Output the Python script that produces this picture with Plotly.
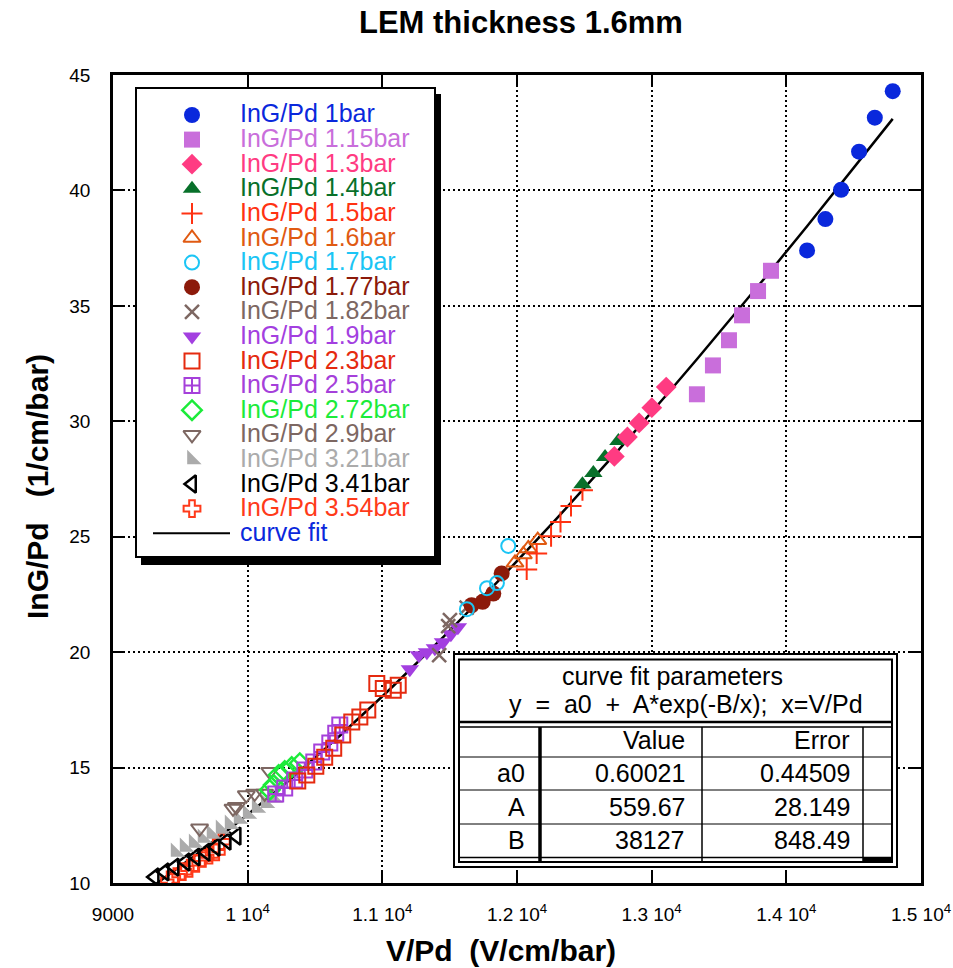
import plotly.graph_objects as go
import numpy as np

# ---------------- data ----------------
x_1bar = [14154, 14290, 14407, 14540, 14657, 14790]
y_1bar = [37.40, 38.76, 40.03, 41.68, 43.15, 44.30]
x_115bar = [13336, 13455, 13574, 13671, 13790, 13886]
y_115bar = [31.17, 32.42, 33.51, 34.59, 35.64, 36.52]
x_13bar = [12723, 12820, 12907, 13001, 13108]
y_13bar = [28.48, 29.32, 29.93, 30.59, 31.48]
x_14bar = [12486, 12567, 12654, 12753]
y_14bar = [27.27, 27.76, 28.45, 29.15]
x_15bar = [12072, 12146, 12253, 12323, 12401, 12486]
y_15bar = [23.58, 24.27, 25.02, 25.64, 26.33, 27.01]
x_16bar = [11985, 12047, 12084, 12154]
y_16bar = [23.87, 24.23, 24.49, 24.85]
x_17bar = [11628, 11777, 11851, 11935]
y_17bar = [21.86, 22.77, 22.99, 24.60]
x_177bar = [11663, 11745, 11824, 11886]
y_177bar = [22.03, 22.18, 22.54, 23.41]
x_182bar = [11422, 11489, 11502, 11626]
y_182bar = [19.87, 21.13, 21.39, 21.93]
x_19bar = [11204, 11271, 11331, 11390, 11450, 11509, 11561]
y_19bar = [19.26, 19.87, 20.00, 20.17, 20.43, 20.78, 21.08]
x_23bar = [10372, 10439, 10506, 10572, 10639, 10706, 10773, 10833, 10892, 10959, 11007, 11081, 11118]
y_23bar = [14.42, 14.68, 15.06, 15.45, 15.84, 16.41, 16.97, 17.19, 17.49, 18.64, 18.43, 18.35, 18.57]
x_25bar = [10208, 10275, 10349, 10424, 10491, 10550, 10610, 10654, 10684]
y_25bar = [13.85, 14.11, 14.46, 14.89, 15.24, 15.67, 16.06, 16.49, 16.84]
x_272bar = [10164, 10193, 10230, 10275, 10327, 10387]
y_272bar = [14.03, 14.24, 14.68, 14.85, 15.02, 15.19]
x_29bar = [9643, 9891, 9916, 9990, 10052, 10126, 10164]
y_29bar = [12.37, 13.23, 13.30, 13.81, 13.88, 13.88, 14.82]
x_321bar = [9465, 9532, 9599, 9665, 9732, 9799, 9866, 9933, 10000, 10067, 10134, 10193]
y_321bar = [11.34, 11.56, 11.73, 11.95, 12.12, 12.34, 12.55, 12.77, 12.99, 13.25, 13.46, 13.68]
x_341bar = [9309, 9383, 9457, 9539, 9613, 9688, 9762, 9844, 9918]
y_341bar = [10.26, 10.48, 10.69, 10.91, 11.13, 11.34, 11.56, 11.82, 12.03]
x_354bar = [9420, 9470, 9519, 9569, 9619, 9668, 9717, 9767, 9804]
y_354bar = [10.13, 10.27, 10.49, 10.64, 10.85, 11.07, 11.21, 11.35, 11.79]

series_names = ["InG/Pd 1bar", "InG/Pd 1.15bar", "InG/Pd 1.3bar", "InG/Pd 1.4bar",
                "InG/Pd 1.5bar", "InG/Pd 1.6bar", "InG/Pd 1.7bar", "InG/Pd 1.77bar",
                "InG/Pd 1.82bar", "InG/Pd 1.9bar", "InG/Pd 2.3bar", "InG/Pd 2.5bar",
                "InG/Pd 2.72bar", "InG/Pd 2.9bar", "InG/Pd 3.21bar", "InG/Pd 3.41bar",
                "InG/Pd 3.54bar"]
series_x = [x_1bar, x_115bar, x_13bar, x_14bar, x_15bar, x_16bar, x_17bar, x_177bar,
            x_182bar, x_19bar, x_23bar, x_25bar, x_272bar, x_29bar, x_321bar, x_341bar, x_354bar]
series_y = [y_1bar, y_115bar, y_13bar, y_14bar, y_15bar, y_16bar, y_17bar, y_177bar,
            y_182bar, y_19bar, y_23bar, y_25bar, y_272bar, y_29bar, y_321bar, y_341bar, y_354bar]

# fit parameters (from the table)
param_names = ["a0", "A", "B"]
param_values = ["0.60021", "559.67", "38127"]
param_errors = ["0.44509", "28.149", "848.49"]
a0_fit, A_fit, B_fit = 0.60021, 559.67, 38127.0

x_ticks = [9000, 10000, 11000, 12000, 13000, 14000, 15000]
x_ticktext = ["9000", "1 10<sup>4</sup>", "1.1 10<sup>4</sup>", "1.2 10<sup>4</sup>",
              "1.3 10<sup>4</sup>", "1.4 10<sup>4</sup>", "1.5 10<sup>4</sup>"]
y_ticks = [10, 15, 20, 25, 30, 35, 40, 45]

# ---------------- styles ----------------
styles = [
    dict(symbol="circle", color="#0A28DC", size=16),
    dict(symbol="square", color="#C96EDB", size=16),
    dict(symbol="diamond", color="#FF3B82", size=16),
    dict(symbol="triangle-up", color="#08702A", size=16),
    dict(symbol="cross-thin", color="#FF3212", size=15, lw=2),
    dict(symbol="triangle-up-open", color="#E05A12", size=15, lw=2),
    dict(symbol="circle-open", color="#1BC5F5", size=14, lw=2),
    dict(symbol="circle", color="#8C1A0A", size=16),
    dict(symbol="x-thin", color="#7D6762", size=14, lw=2.5),
    dict(symbol="triangle-down", color="#A33FE0", size=16),
    dict(symbol="square-open", color="#E52A0F", size=15, lw=2),
    dict(symbol="square-cross-open", color="#A540DA", size=15, lw=2),
    dict(symbol="diamond-open", color="#1CEB3A", size=15, lw=2.5),
    dict(symbol="triangle-down-open", color="#7D6762", size=15, lw=2),
    dict(symbol="triangle-sw", color="#ABABAB", size=16),
    dict(symbol="triangle-left-open", color="#000000", size=15, lw=2.5),
    dict(symbol="cross-open", color="#FF3A1A", size=14, lw=2),
]
text_colors = ["#0A28DC", "#C96EDB", "#FF3B82", "#08702A", "#FF3212", "#E05A12", "#1BC5F5",
               "#8C1A0A", "#7D6762", "#A33FE0", "#E52A0F", "#A540DA", "#1CEB3A", "#7D6762",
               "#ABABAB", "#000000", "#FF3A1A"]

FONT = "Liberation Sans, Arial, Helvetica, sans-serif"

W, H = 953, 968
L, R, T, B = 113, 32, 75, 85
PW, PH = W - L - R, H - T - B
X0, X1, Y0, Y1 = 9000, 15000, 10, 45


def px2x(px):
    return X0 + (px - L) / PW * (X1 - X0)


def py2y(py):
    return Y0 + (T + PH - py) / PH * (Y1 - Y0)


def pxp(px):
    return (px - L) / PW


def pyp(py):
    return (T + PH - py) / PH


def marker_of(st):
    lw = st.get("lw", 0)
    return dict(symbol=st["symbol"], size=st["size"], color=st["color"],
                line=dict(color=st["color"], width=lw))


fig = go.Figure()

# curve fit evaluated at the measured x values
all_x = np.sort(np.unique(np.concatenate([np.array(v, float) for v in series_x])))
fit_y = a0_fit + A_fit * np.exp(-B_fit / all_x)
fig.add_trace(go.Scatter(x=all_x, y=fit_y, mode="lines", name="curve fit",
                         line=dict(color="black", width=2.5), showlegend=False))

# data (draw in reverse so low-pressure series end on top like reference)
for i in reversed(range(len(series_names))):
    fig.add_trace(go.Scatter(x=series_x[i], y=series_y[i], mode="markers",
                             name=series_names[i], marker=marker_of(styles[i]),
                             showlegend=False))

shapes = []
annotations = []

# ---------------- manual legend ----------------
LB = dict(x0=136, y0=88, x1=435, y1=557)
shapes.append(dict(type="rect", xref="x", yref="y", layer="between",
                   x0=px2x(LB["x0"] + 5), x1=px2x(LB["x1"] + 6),
                   y0=py2y(LB["y0"] + 6), y1=py2y(LB["y1"] + 8),
                   fillcolor="black", line=dict(width=0)))
shapes.append(dict(type="rect", xref="x", yref="y", layer="between",
                   x0=px2x(LB["x0"]), x1=px2x(LB["x1"]),
                   y0=py2y(LB["y0"]), y1=py2y(LB["y1"]),
                   fillcolor="white", line=dict(color="black", width=2)))
row0, drow = 115.0, 24.6
for i, nm in enumerate(series_names):
    ry = row0 + drow * i
    fig.add_trace(go.Scatter(x=[px2x(192)], y=[py2y(ry)], mode="markers",
                             marker=marker_of(styles[i]), showlegend=False,
                             hoverinfo="skip"))
    annotations.append(dict(xref="paper", yref="paper", x=pxp(238), y=pyp(ry - 1.5),
                            xanchor="left", yanchor="middle", showarrow=False,
                            text=nm, font=dict(family=FONT, size=25, color=text_colors[i])))
ry = row0 + drow * 17
shapes.append(dict(type="line", xref="x", yref="y", layer="above",
                   x0=px2x(153), x1=px2x(230), y0=py2y(ry), y1=py2y(ry),
                   line=dict(color="black", width=2)))
annotations.append(dict(xref="paper", yref="paper", x=pxp(238), y=pyp(ry - 1.5),
                        xanchor="left", yanchor="middle", showarrow=False,
                        text="curve fit", font=dict(family=FONT, size=25, color="#0A28DC")))

# ---------------- table ----------------
def hline(py, xa, xb, w, color="black"):
    shapes.append(dict(type="line", xref="x", yref="y", layer="between",
                       x0=px2x(xa), x1=px2x(xb), y0=py2y(py), y1=py2y(py),
                       line=dict(color=color, width=w)))


def vline(px, ya, yb, w, color="black"):
    shapes.append(dict(type="line", xref="x", yref="y", layer="between",
                       x0=px2x(px), x1=px2x(px), y0=py2y(ya), y1=py2y(yb),
                       line=dict(color=color, width=w)))


shapes.append(dict(type="rect", xref="x", yref="y", layer="between",
                   x0=px2x(454), x1=px2x(897), y0=py2y(654), y1=py2y(867),
                   fillcolor="white", line=dict(color="black", width=2)))
shapes.append(dict(type="rect", xref="x", yref="y", layer="between",
                   x0=px2x(459), x1=px2x(892), y0=py2y(659.5), y1=py2y(862),
                   fillcolor="white", line=dict(color="black", width=2)))
hline(722, 459, 892, 2.5)
hline(727, 459, 892, 1.5)
hline(757, 459, 892, 1)
hline(790, 459, 892, 1)
hline(824, 459, 892, 1)
hline(857.5, 459, 892, 1.5)
vline(540, 727, 862, 3.5)
vline(702, 727, 862, 1.5)
vline(863, 727, 862, 1.5)
shapes.append(dict(type="rect", xref="x", yref="y", layer="between",
                   x0=px2x(863), x1=px2x(892), y0=py2y(857), y1=py2y(862),
                   fillcolor="black", line=dict(width=0)))


def tann(text, px, py, anchor="right", size=25):
    annotations.append(dict(xref="paper", yref="paper", x=pxp(px), y=pyp(py),
                            xanchor=anchor, yanchor="middle", showarrow=False, text=text,
                            font=dict(family=FONT, size=size, color="black")))


tann("curve fit parameters", 672, 676, "center")
tann("y\u00a0 =\u00a0 a0\u00a0 +\u00a0 A*exp(-B/x);\u00a0 x=V/Pd", 686, 704, "center")
tann("Value", 687, 740)
tann("Error", 852, 740)
row_ys = [773, 807, 840]
for nm, v, e, ry in zip(param_names, param_values, param_errors, row_ys):
    tann(nm, 527, ry)
    tann(v, 687, ry)
    tann(e, 852, ry)

# ---------------- titles ----------------
annotations.append(dict(xref="paper", yref="paper", x=pxp(521), y=pyp(22),
                        xanchor="center", yanchor="middle", showarrow=False,
                        text="<b>LEM thickness 1.6mm</b>",
                        font=dict(family=FONT, size=31, color="black")))
annotations.append(dict(xref="paper", yref="paper", x=pxp(501), y=pyp(950),
                        xanchor="center", yanchor="middle", showarrow=False,
                        text="<b>V/Pd\u00a0 (V/cm/bar)</b>",
                        font=dict(family=FONT, size=30, color="black")))
annotations.append(dict(xref="paper", yref="paper", x=pxp(37), y=pyp(487),
                        xanchor="center", yanchor="middle", showarrow=False, textangle=-90,
                        text="<b>InG/Pd\u00a0\u00a0 (1/cm/bar)</b>",
                        font=dict(family=FONT, size=30, color="black")))

axis_common = dict(showgrid=True, gridcolor="black", gridwidth=1.5, griddash="2px,3px",
                   showline=True, linecolor="black", linewidth=2.5, mirror="ticks",
                   ticks="inside", ticklen=11, tickwidth=2, tickcolor="black",
                   zeroline=False, automargin=False,
                   tickfont=dict(family=FONT, size=19, color="black"))

fig.update_layout(
    width=W, height=H,
    margin=dict(l=L, r=R, t=T, b=B, pad=0, autoexpand=False),
    paper_bgcolor="white", plot_bgcolor="white",
    showlegend=False,
    xaxis=dict(range=[X0, X1], tickvals=x_ticks, ticktext=x_ticktext,
               ticklabelstandoff=12, **axis_common),
    yaxis=dict(range=[Y0, Y1], tickvals=y_ticks, ticktext=[str(v) for v in y_ticks],
               ticklabelstandoff=16, **axis_common),
    shapes=shapes,
    annotations=annotations,
)

fig.write_html("out.html")
